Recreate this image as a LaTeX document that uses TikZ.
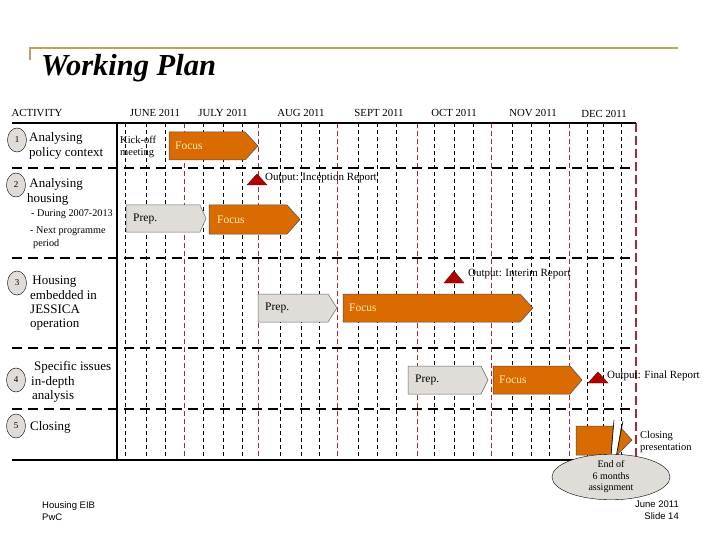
\documentclass[tikz,border=0pt]{standalone}
\usepackage{fontspec}
\setmainfont{Liberation Serif}
\newfontfamily\footfont{Liberation Sans}
\usetikzlibrary{shapes.geometric}
\definecolor{gold}{RGB}{190,160,100}
\definecolor{orng}{RGB}{217,107,0}
\definecolor{focustxt}{RGB}{255,236,180}
\definecolor{greyfill}{RGB}{224,221,216}
\definecolor{redl}{RGB}{170,40,50}
\definecolor{trired}{RGB}{176,0,0}
\newcommand{\chevbox}[6]{\draw[#6] (#1,#4) -- (#2,#4) -- (#3,{(#4+#5)/2}) -- (#2,#5) -- (#1,#5) -- cycle;}
\begin{document}
\begin{tikzpicture}[x=1pt,y=-1pt,
  vblk/.style={black,line width=0.7pt,dash pattern=on 4pt off 3pt},
  vred/.style={color=redl,line width=0.6pt,dash pattern=on 5pt off 3pt},
  sepline/.style={black,line width=2pt,dash pattern=on 10pt off 6pt},
  num/.style={ellipse,draw=black,fill=greyfill,minimum width=19pt,minimum height=24pt,inner sep=0pt,font=\fontsize{9}{9}\selectfont},
  lbl/.style={anchor=west,align=left,inner sep=0pt,font=\fontsize{13}{14.3}\selectfont},
  sublbl/.style={anchor=west,align=left,inner sep=0pt,font=\fontsize{10.2}{13}\selectfont},
  month/.style={inner sep=0pt,font=\fontsize{10.8}{10.8}\selectfont},
  focusbox/.style={fill=orng,draw=black!70,line width=0.5pt},
  prepbox/.style={fill=greyfill,draw=black!60,line width=0.5pt},
  focustext/.style={anchor=west,inner sep=0pt,text=focustxt,font=\fontsize{11.5}{11.5}\selectfont},
  preptext/.style={anchor=west,inner sep=0pt,font=\fontsize{11.5}{11.5}\selectfont},
  outtext/.style={anchor=west,inner sep=0pt,font=\fontsize{11}{11}\selectfont},
  tri/.style={fill=trired,draw=black!60!red,line width=0.4pt},
  foot/.style={inner sep=0pt,align=left,font=\footfont\fontsize{9.5}{12}\selectfont}
]
\useasboundingbox (0,0) rectangle (720,540);
% top rule
\draw[gold,line width=1.2pt] (30,60) -- (30,48) -- (678,48);
\node[anchor=west,inner sep=0pt,font=\fontsize{30.5}{30.5}\selectfont\bfseries\itshape] (title) at (41,68) {Working Plan};
% header
\node[month] (hact) at (37,113) {ACTIVITY};
\node[month] (hjun) at (155,113) {JUNE 2011};
\node[month] (hjul) at (223,113) {JULY 2011};
\node[month] (haug) at (301,113) {AUG 2011};
\node[month] (hsep) at (379,113) {SEPT 2011};
\node[month] (hoct) at (454,113) {OCT 2011};
\node[month] (hnov) at (533,113) {NOV 2011};
\node[month] (hdec) at (604,114) {DEC 2011};
% vertical dashed lines
\foreach \x in {125,146,165,203,223,242,280,301,319,358,377,396,434,454,473,512,531,549,587,603,621}
  \draw[vblk] (\x,123) -- (\x,460);
\foreach \x in {184,258,337,417,491,569}
  \draw[vred] (\x,123) -- (\x,460);
\draw[color=redl,line width=2.5pt,dash pattern=on 9pt off 4pt] (636,123) -- (636,462);
% frame lines
\draw[black,line width=2pt] (12,123) -- (636,123);
\draw[black,line width=2.5pt] (12,460) -- (636,460);
\draw[black,line width=2.2pt] (117,123) -- (117,460);
\foreach \y in {168,258,348,409}
  \draw[sepline] (12,\y) -- (636,\y);
% numbers
\node[num] (n1) at (17,140) {1};
\node[num] (n2) at (16,185) {2};
\node[num] (n3) at (17,283) {3};
\node[num] (n4) at (16,380) {4};
\node[num] (n5) at (16,426) {5};
% labels
\node[lbl] (l1) at (29,146) {Analysing\\policy context};
\node[lbl] (l2) at (27,192) {\,Analysing\\housing};
\node[sublbl] (l2a) at (31,214) {- During 2007-2013};
\node[sublbl] (l2b) at (30,238) {- Next programme\\\hspace*{3pt}period};
\node[lbl] (l3) at (30,303.5) {\,Housing\\embedded in\\JESSICA\\operation};
\node[lbl] (l4) at (31,382) {\hspace*{3pt}Specific issues\\in-depth\\\hspace*{1pt}analysis};
\node[lbl] (l5) at (30,427) {Closing};
% row 1
\node[anchor=west,align=left,inner sep=0pt,font=\fontsize{10.5}{12}\selectfont] (kick) at (120,147) {Kick-off\\meeting};
\chevbox{169}{245}{258}{132}{160}{focusbox}
\node[focustext] (f1) at (175,146) {Focus};
% row 2
\draw[tri] (247,185) -- (257,174) -- (267,185) -- cycle;
\node[outtext] (o1) at (265,178) {Output: Inception Report};
\chevbox{126}{200}{206}{205}{232}{prepbox}
\node[preptext] (p2) at (133,219) {Prep.};
\chevbox{209}{287}{300}{205}{234}{focusbox}
\node[focustext] (f2) at (217,220) {Focus};
% row 3
\draw[tri] (444,283) -- (454,271) -- (464,283) -- cycle;
\node[outtext] (o2) at (468,274) {Output: Interim Report};
\chevbox{258}{328}{337}{294}{322}{prepbox}
\node[preptext] (p3) at (265,308) {Prep.};
\chevbox{343}{520}{533}{294}{322}{focusbox}
\node[focustext] (f3) at (349,308) {Focus};
% row 4
\chevbox{408}{481}{488}{366}{394}{prepbox}
\node[preptext] (p4) at (415,380) {Prep.};
\chevbox{493}{570}{582}{366}{394}{focusbox}
\node[focustext] (f4) at (499,380) {Focus};
\draw[tri] (588,383) -- (598,372) -- (608,383) -- cycle;
\node[outtext] (o3) at (607,376) {Output: Final Report};
% row 5 closing
\draw[focusbox] (576,426) -- (613,426) -- (611,455) -- (576,455) -- cycle;
\draw[focusbox] (621,428) -- (632,440) -- (617,455) -- cycle;
\draw[black,line width=0.6pt] (614,420) -- (611,456);
\draw[black,line width=0.6pt] (623,421) -- (616,457);
\node[anchor=west,align=left,inner sep=0pt,font=\fontsize{10.5}{12}\selectfont] (cp) at (640,442) {Closing\\presentation};
\node[ellipse,draw=black,fill=greyfill,minimum width=118pt,minimum height=38pt,inner sep=0pt,align=center,font=\fontsize{10}{11.5}\selectfont] (end) at (611,477) {End of\\6 months\\assignment};
% footer
\node[foot,anchor=west] (fl) at (42,511) {Housing EIB\\PwC};
\node[foot,anchor=east,align=right] (fr) at (679,510) {June 2011\\Slide 14};
\end{tikzpicture}
\end{document}
